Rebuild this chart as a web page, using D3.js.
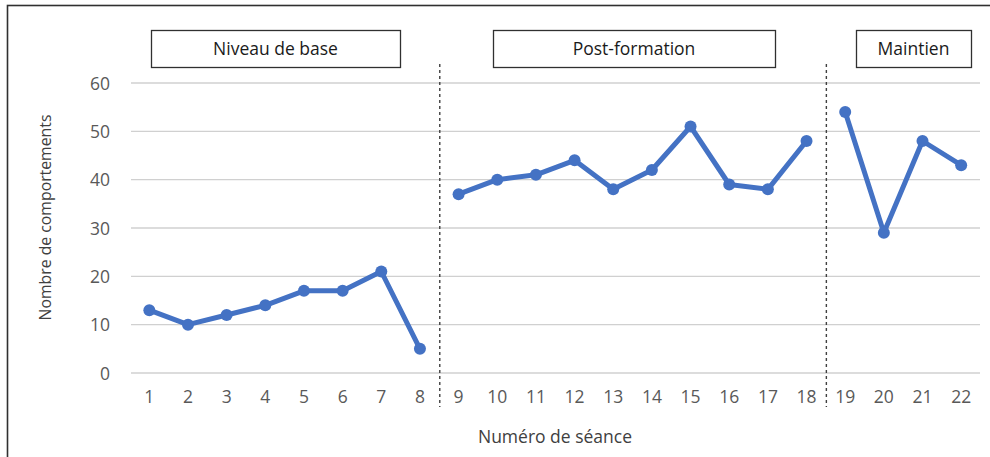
<!DOCTYPE html>
<html><head><meta charset="utf-8">
<script src="https://cdn.jsdelivr.net/npm/d3@7"></script>
<style>html,body{margin:0;padding:0;background:#fff;}svg{display:block;font-family:"Open Sans",sans-serif;}</style>
</head><body><svg id="c" width="990" height="457"></svg>
<script>
const sessions = d3.range(1, 23).map(String);
const baseline = [13, 10, 12, 14, 17, 17, 21, 5];
const postTraining = [37, 40, 41, 44, 38, 42, 51, 39, 38, 48];
const maintenance = [54, 29, 48, 43];
const phaseLabels = ["Niveau de base", "Post-formation", "Maintien"];
const yTicks = [0, 10, 20, 30, 40, 50, 60];

const phases = [baseline, postTraining, maintenance];
let start = 0;
const phaseData = phases.map(vals => {
  const d = vals.map((v, i) => ({s: sessions[start + i], v}));
  start += vals.length;
  return d;
});

const FONT = "'Open Sans', sans-serif";
const svg = d3.select("#c");
const x = d3.scaleBand().domain(sessions).range([130, 980.5]);
const y = d3.scaleLinear().domain([0, 60]).range([373, 83]);

// outer frame
svg.append("rect").attr("x", 7.5).attr("y", 5.5).attr("width", 1000).attr("height", 500)
  .attr("fill", "none").attr("stroke", "#303030").attr("stroke-width", 1.6);

// gridlines
svg.append("g").selectAll("line").data(yTicks).join("line")
  .attr("x1", 131).attr("x2", 980).attr("y1", d => y(d)).attr("y2", d => y(d))
  .attr("stroke", "#d0d0d0").attr("stroke-width", 1.3);

// y axis
const yAxis = svg.append("g").attr("transform", "translate(110,0)")
  .call(d3.axisLeft(y).tickValues(yTicks).tickSize(0).tickPadding(0));
yAxis.select(".domain").remove();
yAxis.selectAll("text").attr("font-size", 17.5).attr("fill", "#595959").attr("font-family", FONT).attr("dy", "0.35em");

// x axis
const xAxis = svg.append("g").attr("transform", "translate(0,373)")
  .call(d3.axisBottom(x).tickSize(0).tickPadding(0));
xAxis.select(".domain").remove();
xAxis.selectAll("text").attr("font-size", 17.5).attr("fill", "#595959").attr("font-family", FONT)
  .attr("y", 24).attr("dy", "0.35em");

// phase separators
const seps = [[sessions[7], sessions[8]], [sessions[17], sessions[18]]];
svg.append("g").selectAll("line").data(seps).join("line")
  .attr("x1", d => (x(d[0]) + x.bandwidth() + x(d[1])) / 2 + 0.5)
  .attr("x2", d => (x(d[0]) + x.bandwidth() + x(d[1])) / 2 + 0.5)
  .attr("y1", 64).attr("y2", 407)
  .attr("stroke", "#404040").attr("stroke-width", 1.4).attr("stroke-dasharray", "3,3");

// lines
const cx = d => x(d.s) + x.bandwidth() / 2;
const line = d3.line().x(cx).y(d => y(d.v));
svg.append("g").selectAll("path").data(phaseData).join("path")
  .attr("d", line).attr("fill", "none").attr("stroke", "#4472c4")
  .attr("stroke-width", 5).attr("stroke-linejoin", "round");
svg.append("g").selectAll("circle").data(phaseData.flat()).join("circle")
  .attr("cx", cx).attr("cy", d => y(d.v)).attr("r", 6).attr("fill", "#4472c4");

// phase label boxes
const boxes = [
  {label: phaseLabels[0], x0: 151, x1: 400},
  {label: phaseLabels[1], x0: 493, x1: 775},
  {label: phaseLabels[2], x0: 856, x1: 971}
];
const bg = svg.append("g").selectAll("g").data(boxes).join("g");
bg.append("rect").attr("x", d => d.x0 + 0.5).attr("y", 30.5).attr("width", d => d.x1 - d.x0).attr("height", 37)
  .attr("fill", "#fff").attr("stroke", "#303030").attr("stroke-width", 1.3);
bg.append("text").attr("x", d => (d.x0 + d.x1) / 2).attr("y", 49).attr("dy", "0.35em")
  .attr("text-anchor", "middle").attr("font-size", 17.5).attr("fill", "#1a1a1a").text(d => d.label);

// axis titles
svg.append("text").attr("transform", "translate(45,217.5) rotate(-90)").attr("text-anchor", "middle")
  .attr("dy", "0.35em").attr("font-size", 15.8).attr("fill", "#404040").text("Nombre de comportements");
svg.append("text").attr("x", 555).attr("y", 437).attr("dy", "0.35em").attr("text-anchor", "middle")
  .attr("font-size", 17.5).attr("fill", "#404040").text("Numéro de séance");
</script></body></html>
